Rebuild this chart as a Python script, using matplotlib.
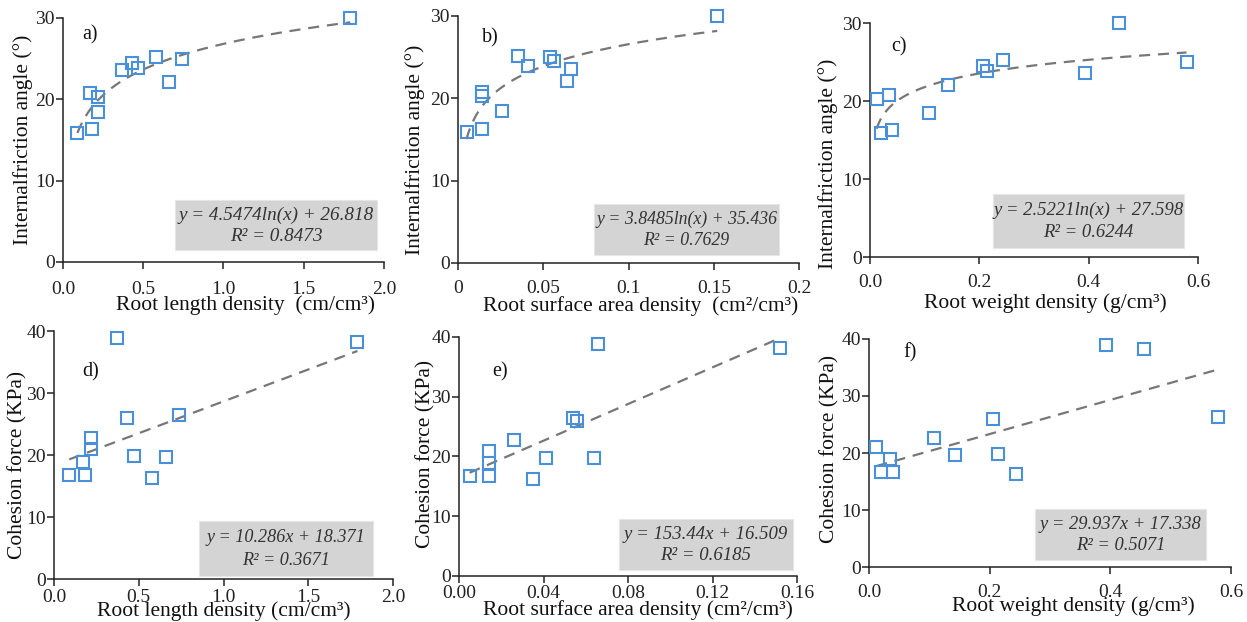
import numpy as np
import matplotlib
matplotlib.use("Agg")
import matplotlib.pyplot as plt
from matplotlib.patches import Rectangle

plt.rcParams['font.family'] = ['Liberation Serif', 'DejaVu Serif']

# ---------------- data ----------------
rld = [0.09, 0.18, 0.17, 0.22, 0.22, 0.37, 0.43, 0.47, 0.58, 0.66, 0.74, 1.79]
rsad = [0.005, 0.014, 0.014, 0.014, 0.026, 0.035, 0.041, 0.054, 0.056, 0.064, 0.066, 0.152]
rwd = [0.020, 0.040, 0.035, 0.012, 0.107, 0.393, 0.206, 0.214, 0.243, 0.143, 0.579, 0.455]

# friction angle (a) in rld order
phi_a = [15.9, 16.3, 20.8, 20.3, 18.4, 23.6, 24.5, 23.9, 25.2, 22.1, 25.0, 30.0]
# friction angle (b) in rsad order
phi_b = [15.9, 16.3, 20.8, 20.3, 18.4, 25.2, 23.9, 25.0, 24.5, 22.1, 23.6, 30.0]
# friction angle (c) in rwd order
phi_c = [15.9, 16.3, 20.8, 20.3, 18.4, 23.6, 24.5, 23.8, 25.2, 22.1, 25.0, 30.0]

# cohesion (d) in rld order
coh_d = [16.7, 16.7, 18.9, 22.7, 20.9, 38.9, 25.9, 19.8, 16.3, 19.7, 26.4, 38.2]
# cohesion (e) in rsad order
coh_e = [16.7, 16.7, 18.9, 21.0, 22.7, 16.3, 19.8, 26.4, 25.9, 19.7, 38.9, 38.2]
# cohesion (f) in rwd order
coh_f = [16.7, 16.7, 18.9, 21.0, 22.7, 38.9, 25.9, 19.8, 16.3, 19.7, 26.4, 38.2]

# fitted trendline coefficients (slope, intercept)
fit_a = (4.5474, 26.818)
fit_b = (3.8485, 35.436)
fit_c = (2.5221, 27.598)
fit_d = (10.286, 18.371)
fit_e = (153.44, 16.509)
fit_f = (29.937, 17.338)

eq_a = "y = 4.5474ln(x) + 26.818"
eq_b = "y = 3.8485ln(x) + 35.436"
eq_c = "y = 2.5221ln(x) + 27.598"
eq_d = "y = 10.286x + 18.371"
eq_e = "y = 153.44x + 16.509"
eq_f = "y = 29.937x + 17.338"
r2_a = "0.8473"; r2_b = "0.7629"; r2_c = "0.6244"
r2_d = "0.3671"; r2_e = "0.6185"; r2_f = "0.5071"

xt_a = [0.0, 0.5, 1.0, 1.5, 2.0]; xtl_a = ["0.0", "0.5", "1.0", "1.5", "2.0"]
xt_b = [0, 0.05, 0.1, 0.15, 0.2]; xtl_b = ["0", "0.05", "0.1", "0.15", "0.2"]
xt_c = [0.0, 0.2, 0.4, 0.6]; xtl_c = ["0.0", "0.2", "0.4", "0.6"]
xt_e = [0.0, 0.04, 0.08, 0.12, 0.16]; xtl_e = ["0.00", "0.04", "0.08", "0.12", "0.16"]
yt_top = [0, 10, 20, 30]
yt_bot = [0, 10, 20, 30, 40]

xlab_a = "Root length density  (cm/cm\u00b3)"
xlab_b = "Root surface area density  (cm\u00b2/cm\u00b3)"
xlab_c = "Root weight density (g/cm\u00b3)"
xlab_d = "Root length density (cm/cm\u00b3)"
xlab_e = "Root surface area density (cm\u00b2/cm\u00b3)"
xlab_f = "Root weight density (g/cm\u00b3)"
ylab_top = "Internalfriction angle (\u00b0)"
ylab_bot = "Cohesion force (KPa)"

# ---------------- layout ----------------
W, H = 1247, 622
fig = plt.figure(figsize=(W / 100, H / 100), dpi=100)

MARK = '#4a90d9'
LINE = '#777777'
BOX = '#d4d4d4'

panels = [
    dict(pos=[0.0505, 0.5788, 0.2574, 0.3923], x=rld, y=phi_a, fit=fit_a, kind='log',
         eq=eq_a, r2=r2_a, xt=xt_a, xtl=xtl_a, yt=yt_top, xlim=2.0, ylim=30,
         xlab=xlab_a, ylab=ylab_top, lab='a)', labpos=(0.084, 0.93),
         box=(0.349, 0.049, 0.978, 0.254), xlc=(0.570, -0.178), ylc=(-0.125, 0.50),
         efs=13.8, xpad=9.0),
    dict(pos=[0.3673, 0.5772, 0.2735, 0.3971], x=rsad, y=phi_b, fit=fit_b, kind='log',
         eq=eq_b, r2=r2_b, xt=xt_b, xtl=xtl_b, yt=yt_top, xlim=0.2, ylim=30,
         xlab=xlab_b, ylab=ylab_top, lab='b)', labpos=(0.094, 0.91),
         box=(0.399, 0.032, 0.941, 0.239), xlc=(0.534, -0.176), ylc=(-0.126, 0.46),
         efs=12.8, xpad=7.0),
    dict(pos=[0.6977, 0.5868, 0.2630, 0.3762], x=rwd, y=phi_c, fit=fit_c, kind='log',
         eq=eq_c, r2=r2_c, xt=xt_c, xtl=xtl_c, yt=yt_top, xlim=0.6, ylim=30,
         xlab=xlab_c, ylab=ylab_top, lab='c)', labpos=(0.088, 0.90),
         box=(0.375, 0.038, 0.957, 0.269), xlc=(0.534, -0.197), ylc=(-0.128, 0.40),
         efs=13.4, xpad=7.5),
    dict(pos=[0.0433, 0.0691, 0.2719, 0.3987], x=rld, y=coh_d, fit=fit_d, kind='lin',
         eq=eq_d, r2=r2_d, xt=xt_a, xtl=xtl_a, yt=yt_bot, xlim=2.0, ylim=40,
         xlab=xlab_d, ylab=ylab_bot, lab='d)', labpos=(0.109, 0.835),
         box=(0.428, 0.012, 0.941, 0.234), xlc=(0.50, -0.129), ylc=(-0.108, 0.46),
         efs=13.1, xpad=2.0),
    dict(pos=[0.3681, 0.0740, 0.2711, 0.3842], x=rsad, y=coh_e, fit=fit_e, kind='lin',
         eq=eq_e, r2=r2_e, xt=xt_e, xtl=xtl_e, yt=yt_bot, xlim=0.16, ylim=40,
         xlab=xlab_e, ylab=ylab_bot, lab='e)', labpos=(0.121, 0.854),
         box=(0.473, 0.025, 0.988, 0.238), xlc=(0.530, -0.142), ylc=(-0.098, 0.51),
         efs=13.5, xpad=1.5),
    dict(pos=[0.6969, 0.0884, 0.2903, 0.3666], x=rwd, y=coh_f, fit=fit_f, kind='lin',
         eq=eq_f, r2=r2_f, xt=xt_c, xtl=xtl_c, yt=yt_bot, xlim=0.6, ylim=40,
         xlab=xlab_f, ylab=ylab_bot, lab='f)', labpos=(0.113, 0.94),
         box=(0.459, 0.031, 0.931, 0.254), xlc=(0.564, -0.172), ylc=(-0.108, 0.52),
         efs=13.3, xpad=7.5),
]

for p in panels:
    ax = fig.add_axes(p['pos'])
    x = np.array(p['x']); y = np.array(p['y'])
    a, b = p['fit']
    xs = np.linspace(x.min(), x.max(), 200)
    ys = a * np.log(xs) + b if p['kind'] == 'log' else a * xs + b
    ax.plot(xs, ys, color=LINE, lw=1.6, ls=(0, (5, 3.5)), zorder=2)
    ax.plot(x, y, ls='none', marker='s', ms=8.5, mfc='none', mec=MARK, mew=1.5,
            zorder=3, clip_on=False)

    ax.set_xlim(0, p['xlim'])
    ax.set_ylim(0, p['ylim'])
    ax.set_xticks(p['xt'])
    ax.set_xticklabels(p['xtl'])
    ax.set_yticks(p['yt'])
    for s in ['top', 'right']:
        ax.spines[s].set_visible(False)
    for s in ['left', 'bottom']:
        ax.spines[s].set_linewidth(1.1)
        ax.spines[s].set_color('#222222')
    ax.tick_params(direction='out', length=5, width=1.1, labelsize=14,
                   colors='#222222')
    ax.tick_params(axis='y', pad=1)
    ax.tick_params(axis='x', pad=p['xpad'])
    ax.patch.set_alpha(0)

    ax.set_xlabel(p['xlab'], fontsize=15.5, color='#111111')
    ax.xaxis.set_label_coords(*p['xlc'])
    ax.xaxis.label.set_va('center')
    ax.set_ylabel(p['ylab'], fontsize=15.5, color='#111111')
    ax.yaxis.set_label_coords(*p['ylc'])
    ax.yaxis.label.set_va('center')

    ax.text(p['labpos'][0], p['labpos'][1], p['lab'], transform=ax.transAxes,
            fontsize=14.5, ha='center', va='center', color='#111111')

    x0, y0, x1, y1 = p['box']
    ax.add_patch(Rectangle((x0, y0), x1 - x0, y1 - y0, transform=ax.transAxes,
                           facecolor=BOX, edgecolor='#e6e6e6', lw=0.8, zorder=1))
    cx = (x0 + x1) / 2
    ax.text(cx, y0 + (y1 - y0) * 0.70, p['eq'], transform=ax.transAxes,
            fontsize=p['efs'], style='italic', ha='center', va='center',
            color='#333333', zorder=4)
    ax.text(cx, y0 + (y1 - y0) * 0.28, "R\u00b2 = " + p['r2'], transform=ax.transAxes,
            fontsize=p['efs'], style='italic', ha='center', va='center',
            color='#333333', zorder=4)

fig.savefig('out.png', dpi=100)
